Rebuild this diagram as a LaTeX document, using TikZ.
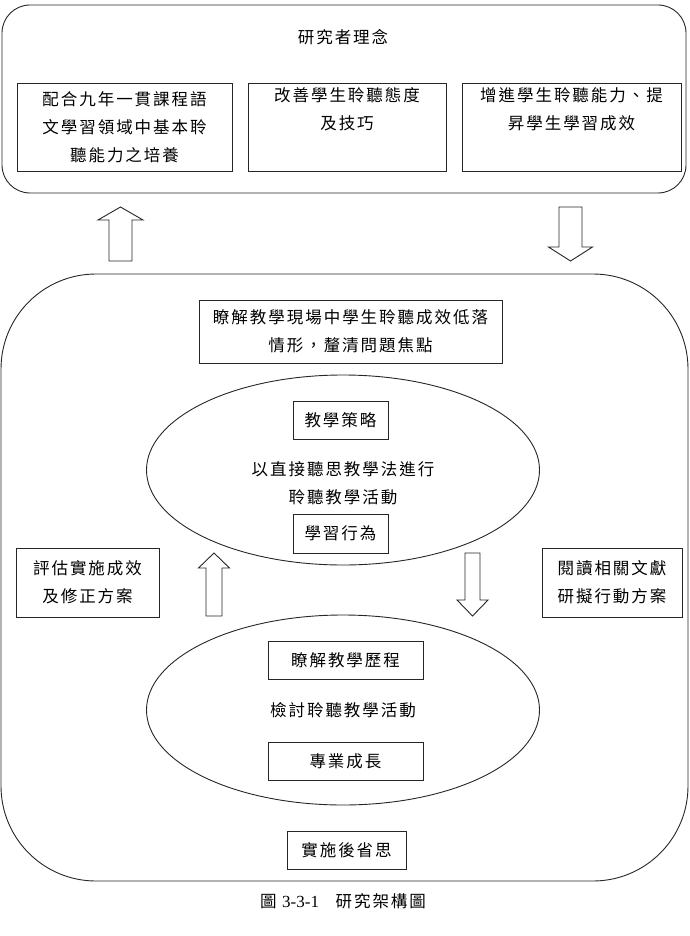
\documentclass[tikz,border=0pt]{standalone}
\usepackage{fontspec}
\setmainfont{Liberation Serif}
\newfontfamily\cjk[LetterSpace=12]{Noto Sans CJK TC}
\usetikzlibrary{shapes.geometric,positioning}

% hollow block arrow: x, tip y, head base y, tail y, head half width, shaft half width
\newcommand\blockarrow[6]{%
  \draw[line] ({#1-#6},#4) -- ({#1-#6},#3) -- ({#1-#5},#3) -- (#1,#2)
    -- ({#1+#5},#3) -- ({#1+#6},#3) -- ({#1+#6},#4) -- cycle;}

\begin{document}
\begin{tikzpicture}[
  x=1pt,y=-1pt,
  font=\cjk\fontsize{16.5}{28}\selectfont,
  line/.style={draw=black!85,line width=0.9pt},
  box/.style={line,rectangle,align=center,inner sep=0pt},
  region/.style={line,rectangle,inner sep=0pt},
  oval/.style={line,ellipse,inner sep=0pt,minimum width=393pt,minimum height=190pt}
]
\useasboundingbox (0,0) rectangle (689,936);

% ---------- researcher ideas ----------
\node[region,rounded corners=28pt,minimum width=684pt,minimum height=188pt] (idea) at (344,99) {};
\node (ideat) at (343,37) {研究者理念};
\node[box,minimum width=215pt,minimum height=88pt] (b1) at (124.5,127)
  {配合九年一貫課程語\\文學習領域中基本聆\\聽能力之培養};
\node[box,minimum width=198pt,minimum height=88pt] (b2) at (347,127)
  {改善學生聆聽態度\\及技巧\\ \strut};
\node[box,minimum width=219pt,minimum height=88pt] (b3) at (571.5,127)
  {增進學生聆聽能力、提\\昇學生學習成效\\ \strut};

% ---------- block arrows between the two regions ----------
\blockarrow{120.5}{207}{220}{261}{22.5}{11.5}
\blockarrow{570.5}{261}{247}{207}{22}{11.5}

% ---------- action cycle ----------
\node[region,rounded corners=95pt,minimum width=687pt,minimum height=607pt] (cycle) at (344.5,577.5) {};
\node[box,minimum width=303pt,minimum height=63pt] (scene) at (350.5,331.5)
  {瞭解教學現場中學生聆聽成效低落\\情形，釐清問題焦點};

\node[oval] (teach) at (343,470) {};
\node[box,minimum width=95pt,minimum height=38pt] (strat) at (340.5,420) {教學策略};
\node[align=center] (teacht) at (343,483.5) {以直接聽思教學法進行\\聆聽教學活動};
\node[box,minimum width=95pt,minimum height=39pt] (behav) at (340.5,533.5) {學習行為};

\node[box,minimum width=143pt,minimum height=69pt] (eval) at (87.5,582.5) {評估實施成效\\及修正方案};
\node[box,minimum width=140pt,minimum height=69pt] (plan) at (612,582.5) {閱讀相關文獻\\研擬行動方案};

\blockarrow{214}{553}{568}{616}{15.5}{8}
\blockarrow{472.5}{616}{600}{553}{15.5}{7.5}

\node[oval] (review) at (343,710) {};
\node[box,minimum width=155pt,minimum height=38pt] (proc) at (345.5,660) {瞭解教學歷程};
\node (reviewt) at (343,710) {檢討聆聽教學活動};
\node[box,minimum width=155pt,minimum height=38pt] (grow) at (345.5,761) {專業成長};

\node[box,minimum width=119pt,minimum height=38pt] (refl) at (346.5,850) {實施後省思};

% ---------- caption ----------
\node (cap) at (343,901) {圖 {\rmfamily\fontsize{17}{20}\selectfont 3-3-1}\quad 研究架構圖};
\end{tikzpicture}
\end{document}
